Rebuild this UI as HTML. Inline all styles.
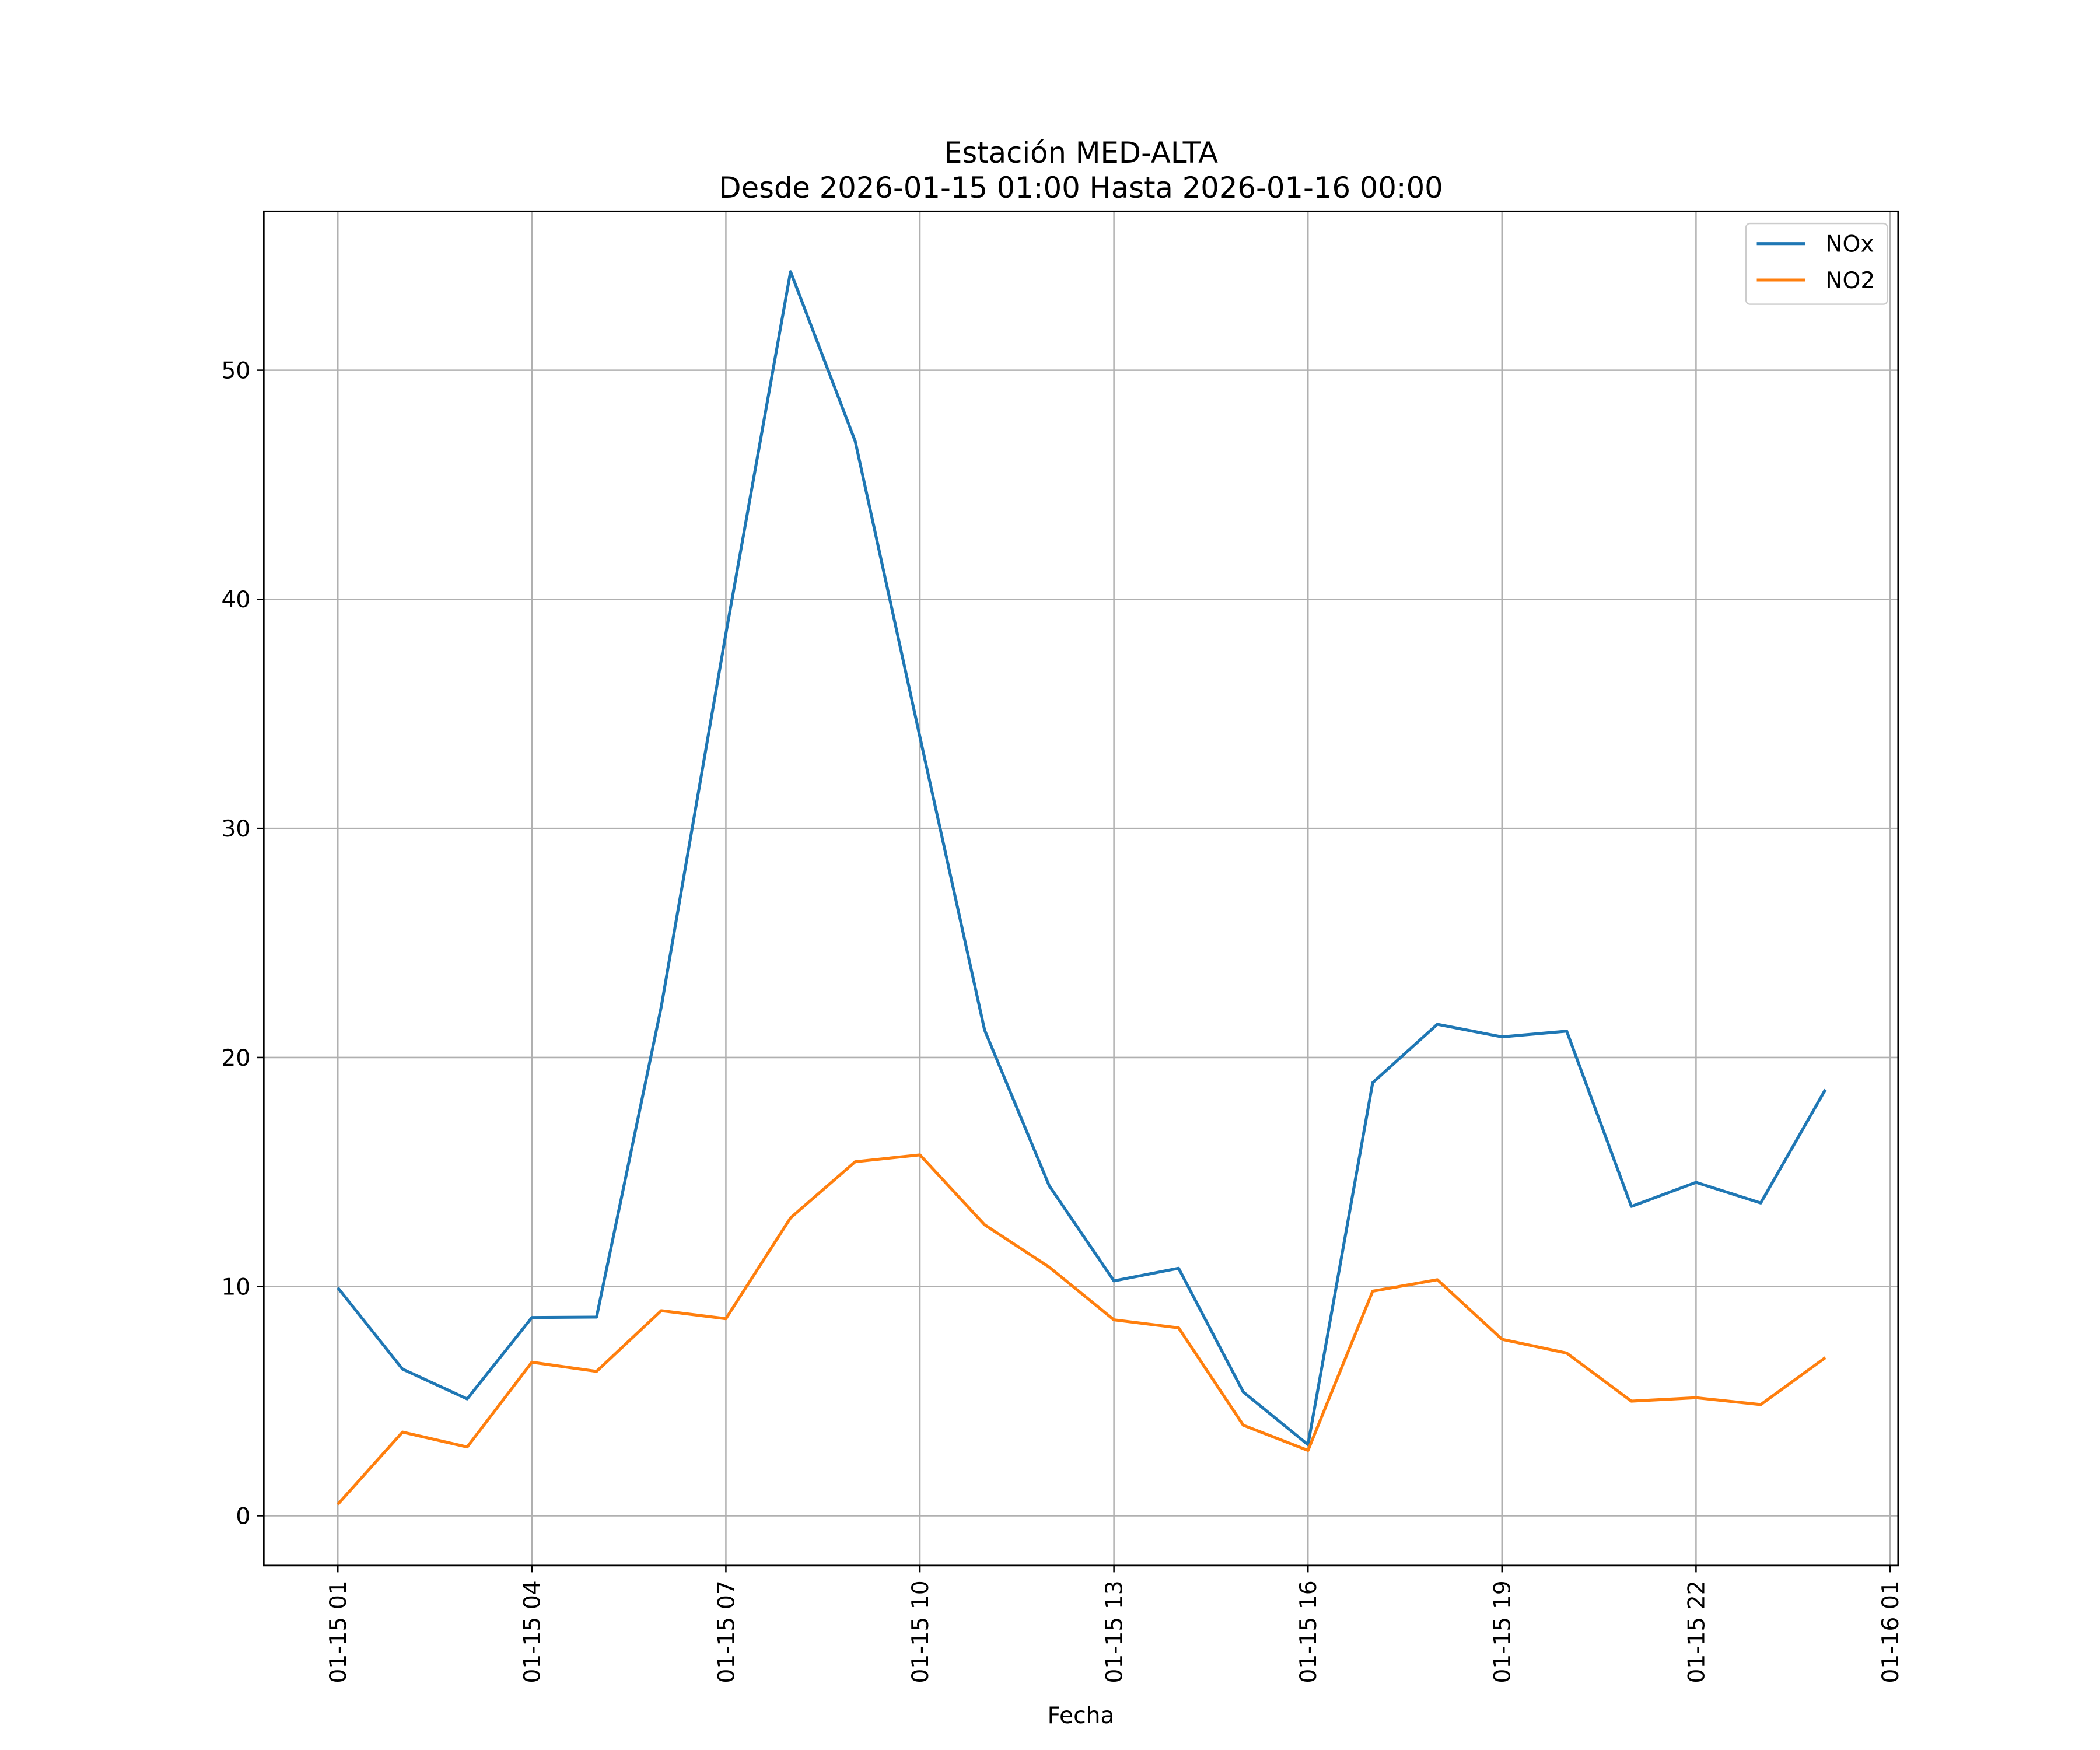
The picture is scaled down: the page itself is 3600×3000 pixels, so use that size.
<!DOCTYPE html>
<html><head><meta charset="utf-8"><style>
html,body{margin:0;padding:0;background:#fff;}
svg{display:block;font-family:"DejaVu Sans","Liberation Sans",sans-serif;}
</style></head><body>
<svg id="chart" width="3600" height="3000" viewBox="0 0 1560 1300" xmlns="http://www.w3.org/2000/svg">
<rect x="0" y="0" width="1560" height="1300" fill="#fff"/>
<text x="803" y="121" font-size="21.5" text-anchor="middle">Estación MED-ALTA</text>
<text x="803" y="147" font-size="21.5" text-anchor="middle">Desde 2026-01-15 01:00 Hasta 2026-01-16 00:00</text>
<g id="grid"></g>
<g id="ticks"></g>
<g id="series"></g>
<rect x="196" y="157" width="1214" height="1006" fill="none" stroke="#000" stroke-width="1.2"/>
<text x="803" y="1280" font-size="17" text-anchor="middle">Fecha</text>
<g>
<rect x="1297" y="166" width="105" height="60" rx="3" fill="#fff" stroke="#ccc" stroke-width="1"/>
<line x1="1305" y1="181" x2="1341" y2="181" stroke="#1f77b4" stroke-width="2.2"/>
<text x="1356" y="187" font-size="17">NOx</text>
<line x1="1305" y1="208" x2="1341" y2="208" stroke="#ff7f0e" stroke-width="2.2"/>
<text x="1356" y="214" font-size="17">NO2</text>
</g>
</svg>
<script>
const hours = [1,2,3,4,5,6,7,8,9,10,11,12,13,14,15,16,17,18,19,20,21,22,23,24];
const noxValues = [9.95,6.4,5.1,8.65,8.67,22.2,38.5,54.3,46.9,34.0,21.2,14.4,10.25,10.8,5.4,3.1,18.9,21.45,20.9,21.15,13.5,14.55,13.65,18.6];
const no2Values = [0.5,3.65,3.0,6.7,6.3,8.95,8.6,13.0,15.45,15.75,12.7,10.85,8.55,8.2,3.95,2.85,9.8,10.3,7.7,7.1,5.0,5.15,4.85,6.9];
const yTicks = [0,10,20,30,40,50];
const xTickHours = [1,4,7,10,13,16,19,22,25];
const xTickLabels = ["01-15 01","01-15 04","01-15 07","01-15 10","01-15 13","01-15 16","01-15 19","01-15 22","01-16 01"];

const NS = "http://www.w3.org/2000/svg";
const L=196,R=1410,T=157,B=1163;
function xs(h){return 251 + (h-1)*(1404-251)/24;}
function ys(v){return 1126 - v*(1126-275)/50;}
function mk(tag, attrs, parent){const e=document.createElementNS(NS,tag);for(const k in attrs)e.setAttribute(k,attrs[k]);parent.appendChild(e);return e;}
const grid=document.getElementById('grid'), ticks=document.getElementById('ticks'), series=document.getElementById('series');
yTicks.forEach(v=>{
  const y=ys(v);
  const g=mk('line',{x1:L,x2:R,y1:y,y2:y,stroke:'#b0b0b0','stroke-width':1.1},grid);
  
  
  mk('line',{x1:L-5,x2:L,y1:y,y2:y,stroke:'#000','stroke-width':1.1},ticks);
  const t=mk('text',{x:L-10,y:y+6,'font-size':17,'text-anchor':'end'},ticks);
  t.textContent=v;
  
  
});
xTickHours.forEach((h,i)=>{
  const x=xs(h);
  const g=mk('line',{x1:x,x2:x,y1:T,y2:B,stroke:'#b0b0b0','stroke-width':1.1},grid);
  
  
  mk('line',{x1:x,x2:x,y1:B,y2:B+5,stroke:'#000','stroke-width':1.1},ticks);
  const t=mk('text',{x:0,y:0,'font-size':17,'text-anchor':'end',transform:`translate(${x+6},${B+11}) rotate(-90)`},ticks);
  t.textContent=xTickLabels[i];
  
  
});
function line(vals,color,name){
  const pts=vals.map((v,i)=>xs(hours[i]).toFixed(2)+','+ys(v).toFixed(2)).join(' ');
  const p=mk('polyline',{points:pts,fill:'none',stroke:color,'stroke-width':2.2,'stroke-linejoin':'round'},series);
  
  
}
line(noxValues,'#1f77b4','nox-line');
line(no2Values,'#ff7f0e','no2-line');
</script>
</body></html>
